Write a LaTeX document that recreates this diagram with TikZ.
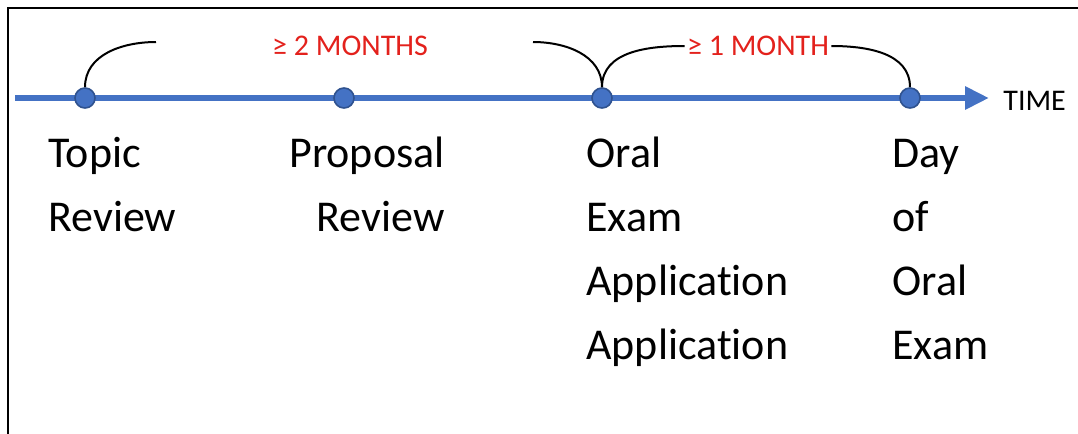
\documentclass[tikz,border=0pt]{standalone}
\usepackage{fontspec}
\setmainfont{Carlito}[Ligatures=NoCommon]
\usetikzlibrary{arrows.meta}
\definecolor{lineblue}{HTML}{4472C4}
\definecolor{dotedge}{HTML}{2F528F}
\definecolor{gapred}{HTML}{E3211C}

\begin{document}
\begin{tikzpicture}[x=0.5pt,y=-0.5pt,
	dot/.style={shape=circle,fill=lineblue,draw=dotedge,line width=0.8pt,inner sep=0pt,minimum size=10pt},
	gap/.style={text=gapred,inner sep=1pt,font=\fontsize{15}{18}\selectfont},
	label/.style={inner sep=0pt,font=\fontsize{22}{32}\selectfont},
	link/.style={-,line width=1pt,black}]
			\useasboundingbox (0,0) rectangle (1078,434);
			\draw[line width=1.2pt] (8,434) -- (8,8) -- (1078,8);
			
			% time axis
			\coordinate (start) at (15,98);
			\coordinate (end) at (989,98);
			\draw[lineblue,line width=3pt,-{Triangle[length=12pt,width=11pt]}] (start) -- (end);
			\node[anchor=west,inner sep=0pt,font=\fontsize{15}{18}\selectfont] (time) at (1003,101) {TIME};
			
			\node[dot] (A) at (85,98) {};
			\node[dot] (B) at (344,98) {};
			\node[dot] (C) at (602,98) {};
			\node[dot] (D) at (910,98) {};
			
			\node[gap] (two) at (350,46) {≥ 2 MONTHS};
			\node[gap] (one) at (758,46) {≥ 1 MONTH};
			\coordinate (a1) at (156,42);
			\coordinate (c1) at (533,42);
			
			\path [link] (A.north) edge[out=90,in=180] (a1);
			\path [link] (c1) edge[out=0,in=90] (C.north);
			\path [link] (C.north) edge[out=90,in=180] (one.west);
			\path [link] (one.east) edge[out=0,in=90] (D.north);
			
			% base anchor sits on the last line
			\node[label,anchor=base west,align=left] (topic) at (48,231) {Topic\\Review};
			\node[label,anchor=base east,align=right] (proposal) at (445,231) {Proposal\\Review};
			\node[label,anchor=base west,align=left] (oral) at (586,359) {Oral\\Exam\\Application\\Application};
			\node[label,anchor=base west,align=left] (day) at (892,359) {Day\\of\\Oral\\Exam};
\end{tikzpicture}
\end{document}
